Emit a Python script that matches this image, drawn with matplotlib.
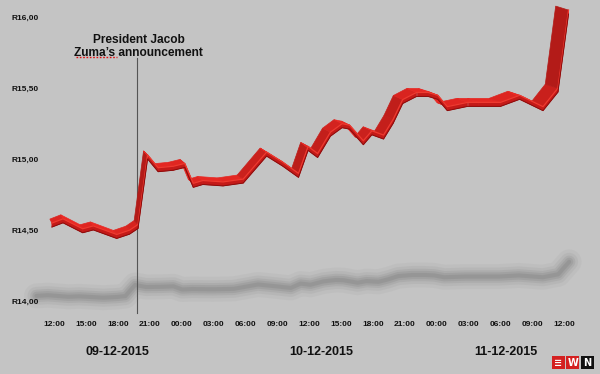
import numpy as np
import matplotlib
matplotlib.use("Agg")
import matplotlib.pyplot as plt
from matplotlib.patches import Polygon, Rectangle
from matplotlib.transforms import IdentityTransform

# ---- data (hours after 12:00 on 09-12-2015, rand per dollar) ----
hours = [-0.2, 0.85, 2.7, 3.7, 5.9, 7.1, 7.9, 8.8, 9.8, 11.2, 12.3, 13.1, 14.0,
         15.9, 17.8, 20.0, 21.5, 23.0, 23.9, 24.8, 26.0, 27.1, 27.8, 29.1, 29.9,
         31.0, 31.9, 32.8, 34.1, 35.2, 36.1, 37.0, 38.9, 39.9, 42.0, 43.8, 46.0,
         47.4, 48.4]
values = [14.57, 14.60, 14.53, 14.55, 14.49, 14.52, 14.56, 15.05, 14.96, 14.97,
          14.99, 14.85, 14.87, 14.86, 14.88, 15.07, 15.00, 14.92, 15.11, 15.06,
          15.21, 15.27, 15.26, 15.15, 15.22, 15.19, 15.30, 15.44, 15.49, 15.49,
          15.47, 15.39, 15.42, 15.42, 15.42, 15.47, 15.39, 15.52, 16.07]

y_ticks = [14.0, 14.5, 15.0, 15.5, 16.0]
y_tick_labels = ["R14,00", "R14,50", "R15,00", "R15,50", "R16,00"]
x_ticks = [0, 3, 6, 9, 12, 15, 18, 21, 24, 27, 30, 33, 36, 39, 42, 45, 48]
x_tick_labels = ["12:00", "15:00", "18:00", "21:00", "00:00", "03:00", "06:00",
                 "09:00", "12:00", "15:00", "18:00", "21:00", "00:00", "03:00",
                 "06:00", "09:00", "12:00"]
dates = ["09-12-2015", "10-12-2015", "11-12-2015"]
date_pos = [5.93, 25.1, 42.5]
announcement_hour = 7.8
annotation = "President Jacob\nZuma\u2019s announcement"

BG = "#c4c4c4"
fig = plt.figure(figsize=(6.0, 3.74), dpi=100, facecolor=BG)
ax = fig.add_axes([0, 0, 1, 1], facecolor=BG)
ax.set_xlim(-5.08, 51.36)
ax.set_ylim(13.493, 16.127)
ax.axis("off")

x = np.array(hours)
v = np.array(values)

# ---- soft shadow on the "floor" ----
shadow_v = 14.04 + (v - 14.55) * 0.16
shadow_x = -1.05 + (x + 0.2) * 1.031 - 0.6
for lw, a in [(18, 0.06), (13, 0.09), (9, 0.13), (6, 0.17), (3, 0.20)]:
    ax.plot(shadow_x, shadow_v, color="#6e6e6e", lw=lw, alpha=a,
            solid_capstyle="round", solid_joinstyle="round", zorder=1)

# ---- announcement line ----
ax.plot([announcement_hour, announcement_hour], [13.923, 15.718],
        color="#555555", lw=0.8, zorder=2)
ax.text(announcement_hour + 0.15, 15.80, annotation, ha="center", va="center",
        fontsize=8.6, fontweight="bold", family="Liberation Sans",
        color="#111111", linespacing=1.15, zorder=5)
# spell-check squiggle under "Zuma's"
ax.plot([2.1, 5.9], [15.728, 15.728], color="#e01010", lw=1.0,
        linestyle=(0, (1.2, 1.2)), zorder=5)

# ---- 3D ribbon line ----
fig.canvas.draw()
pts = ax.transData.transform(np.column_stack([x, v]))
pts = pts + np.array([0.0, -2.0])
dx = -2.0 - 0.021 * (pts[:, 0] - 52.0)   # perspective: depth leans with x
dvec = np.column_stack([dx, np.full(len(pts), 4.0)])
fh = np.array([0.0, -4.0])     # front face height (pixels)
for i in range(len(pts) - 1):
    p0, p1 = pts[i], pts[i + 1]
    seg = p1 - p0
    ang = np.arctan2(seg[1], seg[0])
    shade = 0.5 + 0.5 * np.cos(ang + 0.5)
    r = 0.60 + 0.32 * shade
    col = (r, 0.08 + 0.08 * shade, 0.07 + 0.07 * shade)
    top = Polygon([p0, p1, p1 + dvec[i + 1], p0 + dvec[i]], closed=True,
                  facecolor=col, edgecolor=col, lw=0.5,
                  transform=IdentityTransform(), zorder=3)
    ax.add_artist(top)
for i in range(len(pts) - 1):
    p0, p1 = pts[i], pts[i + 1]
    front = Polygon([p0, p1, p1 + fh, p0 + fh], closed=True, facecolor="#c41a18",
                    edgecolor="#c41a18", lw=0.5, transform=IdentityTransform(),
                    zorder=4)
    ax.add_artist(front)
ax.plot(pts[:, 0], pts[:, 1], color="#ee3a30", lw=0.9,
        transform=IdentityTransform(), zorder=5, solid_joinstyle="round")
ax.plot(pts[:, 0] + fh[0], pts[:, 1] + fh[1], color="#8a0c0c", lw=0.7,
        transform=IdentityTransform(), zorder=5, solid_joinstyle="round")

# ---- tick labels ----
for t, lab in zip(y_ticks, y_tick_labels):
    ax.text(-1.4, t, lab, ha="right", va="center", fontsize=6,
            fontweight="bold", family="Liberation Sans", color="#111111")
for t, lab in zip(x_ticks, x_tick_labels):
    ax.text(t, 13.845, lab, ha="center", va="center", fontsize=6,
            fontweight="bold", family="Liberation Sans", color="#111111")
for p, lab in zip(date_pos, dates):
    ax.text(p, 13.648, lab, ha="center", va="center", fontsize=9,
            fontweight="bold", family="Liberation Sans", color="#111111")

# ---- EWN logo ----
W, H = 600.0, 374.0
for i, (c, ch) in enumerate([("#d42020", "\u2261"), ("#d42020", "W"), ("#111111", "N")]):
    x0 = 552 + i * 14.3
    fig.add_artist(Rectangle((x0 / W, (H - 369) / H), 13 / W, 13 / H,
                             transform=fig.transFigure, facecolor=c,
                             edgecolor="none"))
    fig.text((x0 + 6.5) / W, (H - 362.5) / H, ch, ha="center", va="center",
             color="white", fontsize=7, fontweight="bold",
             family="DejaVu Sans")

fig.savefig("out.png", dpi=100, facecolor=BG)
